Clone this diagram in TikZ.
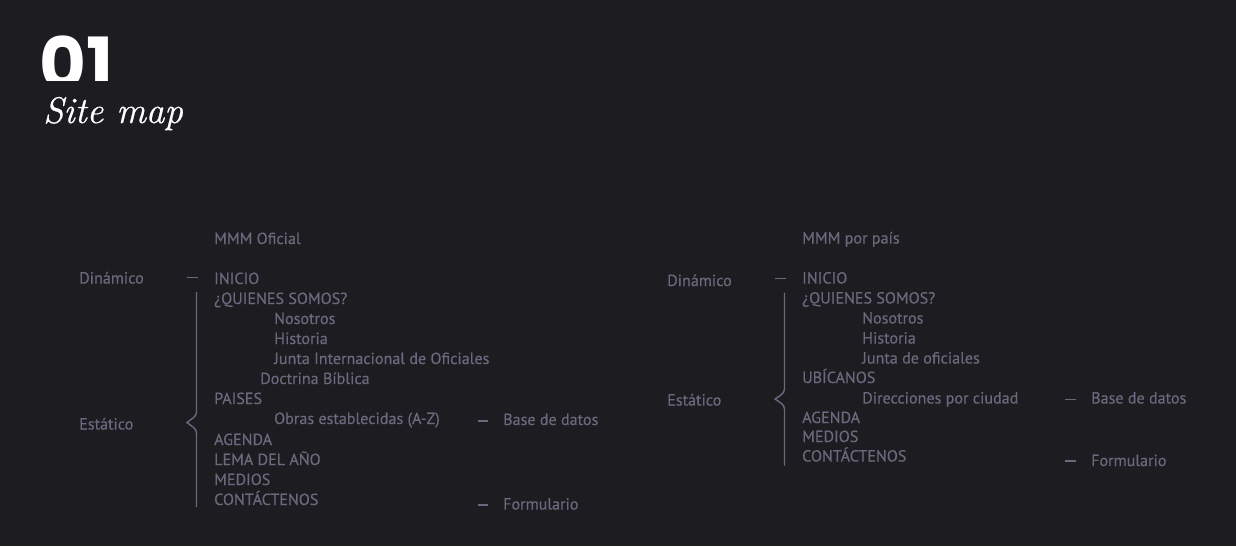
\documentclass[tikz,border=0pt]{standalone}
\usepackage{fontspec}
\newfontfamily\ptsans[FakeBold=0.35]{PT Sans}
\newfontfamily\popfont{Poppins}
\newfontfamily\lmit[FakeBold=0.6]{Latin Modern Roman}
\definecolor{bg}{HTML}{1D1C21}
\definecolor{fg}{HTML}{6C687D}
\begin{document}
\begin{tikzpicture}[x=1pt,y=-1pt,
  item/.style={anchor=base west,inner sep=0pt,text=fg,font=\ptsans\fontsize{16.1}{18}\selectfont},
  rule/.style={draw=fg,line width=1.4pt},
  brace/.style={draw=fg,line width=1.4pt}]
\fill[bg] (0,0) rectangle (1236,546);
\useasboundingbox (0,0) rectangle (1236,546);
% title
\begin{scope}
\clip (0,0) rectangle (300,80.5);
\node[anchor=base west,inner sep=0pt,text depth=0pt,text=white,font=\popfont\bfseries\fontsize{72}{72}\selectfont] (num) at (39.5,89) {01};
\end{scope}
\node[anchor=base west,inner sep=0pt,text=white,font=\lmit\itshape\fontsize{37}{40}\selectfont] (title) at (43,123) {Site map};

% left map
\node[item] (l0) at (214,244) {MMM Oficial};
\node[item] (ldin) at (79,283.5) {Dinámico};
\node[item] (l1) at (214,284) {INICIO};
\node[item] (l2) at (214,304) {¿QUIENES SOMOS?};
\node[item] (l3) at (274,324) {Nosotros};
\node[item] (l4) at (274,344) {Historia};
\node[item] (l5) at (274,364) {Junta Internacional de Oficiales};
\node[item] (l6) at (260,384) {Doctrina Bíblica};
\node[item] (l7) at (214,404) {PAISES};
\node[item] (l8) at (274,424) {Obras establecidas (A-Z)};
\node[item] (l9) at (214,445) {AGENDA};
\node[item] (l10) at (214,465) {LEMA DEL AÑO};
\node[item] (l11) at (214,485) {MEDIOS};
\node[item] (l12) at (214,505) {CONTÁCTENOS};
\node[item] (lest) at (79,429.5) {Estático};
\node[item] (lbd) at (503,425) {Base de datos};
\node[item] (lfo) at (503,509.5) {Formulario};
\coordinate (ld1a) at (187,277.5); \coordinate (ld1b) at (198,277.5);
\coordinate (ld2a) at (478,421); \coordinate (ld2b) at (488,421);
\coordinate (ld3a) at (478,505); \coordinate (ld3b) at (488,505);
\draw[rule] (ld1a) -- (ld1b);
\draw[rule] (ld2a) -- (ld2b);
\draw[rule] (ld3a) -- (ld3b);
\coordinate (lbt) at (196.5,292);
\coordinate (lbtip) at (187,422.5);
\coordinate (lbb) at (196.5,507);
\draw[brace] (lbt) -- (196.5,412) .. controls (196.5,417) and (191,419) .. (lbtip)
  .. controls (191,426) and (196.5,428) .. (196.5,433) -- (lbb);

% right map
\node[item] (r0) at (802,243.5) {MMM por país};
\node[item] (rdin) at (667,286) {Dinámico};
\node[item] (r1) at (802,283.5) {INICIO};
\node[item] (r2) at (802,303.5) {¿QUIENES SOMOS?};
\node[item] (r3) at (862,323.5) {Nosotros};
\node[item] (r4) at (862,343.5) {Historia};
\node[item] (r5) at (862,363.5) {Junta de oficiales};
\node[item] (r6) at (802,383) {UBÍCANOS};
\node[item] (r7) at (862,403.5) {Direcciones por ciudad};
\node[item] (r8) at (802,423) {AGENDA};
\node[item] (r9) at (802,442) {MEDIOS};
\node[item] (r10) at (802,461.5) {CONTÁCTENOS};
\node[item] (rest) at (667,405.5) {Estático};
\node[item] (rbd) at (1091,403.5) {Base de datos};
\node[item] (rfo) at (1091,466) {Formulario};
\coordinate (rd1a) at (775,278.5); \coordinate (rd1b) at (786,278.5);
\coordinate (rd2a) at (1065,399.5); \coordinate (rd2b) at (1076,399.5);
\coordinate (rd3a) at (1065,461); \coordinate (rd3b) at (1076,461);
\draw[rule] (rd1a) -- (rd1b);
\draw[rule] (rd2a) -- (rd2b);
\draw[rule] (rd3a) -- (rd3b);
\coordinate (rbt) at (784.5,292.5);
\coordinate (rbtip) at (775,399);
\coordinate (rbb) at (784.5,465.5);
\draw[brace] (rbt) -- (784.5,389) .. controls (784.5,394) and (779,396) .. (rbtip)
  .. controls (779,402) and (784.5,404) .. (784.5,409) -- (rbb);
\end{tikzpicture}
\end{document}
